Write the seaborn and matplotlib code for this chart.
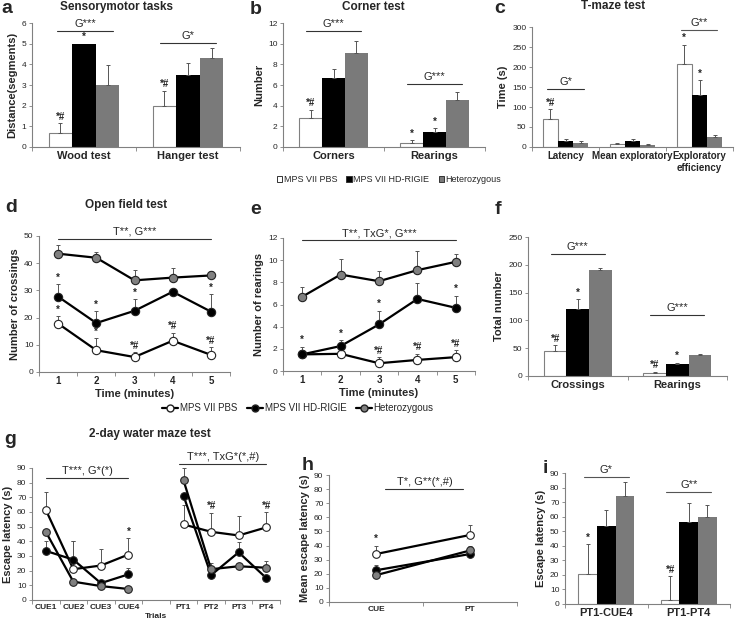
import numpy as np
import pandas as pd
import matplotlib
matplotlib.use('Agg')
import matplotlib.pyplot as plt
import seaborn as sns
from matplotlib.patches import Patch
from matplotlib.lines import Line2D
from matplotlib.container import BarContainer

# --- Données ---
groups = ['MPS VII PBS', 'MPS VII HD-RIGIE', 'Heterozygous']
bar_colors = ['#ffffff', '#000000', '#7a7a7a']
dot_colors = ['#ffffff', '#000000', '#808080']

# a - Sensorymotor tasks
a_cats = ['Wood test', 'Hanger test']
a_vals = [[0.7, 2.0], [5.0, 3.5], [3.0, 4.3]]
a_errs = [[0.45, 0.72], [0.0, 0.57], [0.95, 0.48]]
a_marks = [['*#', '*#'], ['*', ''], ['', '']]

# b - Corner test
b_cats = ['Corners', 'Rearings']
b_vals = [[2.8, 0.4], [6.7, 1.45], [9.1, 4.55]]
b_errs = [[0.8, 0.3], [0.8, 0.4], [1.2, 0.8]]
b_marks = [['*#', '*'], ['', '*'], ['', '']]

# c - T-maze test
c_cats = ['Latency', 'Mean exploratory', 'Exploratory\nefficiency']
c_vals = [[70, 8, 208], [15, 14, 130], [11, 6, 25]]
c_errs = [[25, 3, 48], [5, 5, 38], [4, 2, 5]]
c_marks = [['*#', '', '*'], ['', '', '*'], ['', '', '']]

# d - Open field test (crossings)
time_min = [1, 2, 3, 4, 5]
d_vals = [[17.8, 8.0, 5.5, 11.5, 6.3],
          [27.7, 18.0, 22.5, 29.5, 22.2],
          [43.5, 42.0, 33.7, 34.7, 35.5]]
d_errs = [[2.8, 4.5, 1.8, 3.0, 2.8],
          [4.7, 4.5, 4.3, 0.0, 6.5],
          [3.3, 2.3, 3.8, 3.5, 1.8]]
d_marks = [['*', '*', '*#', '*#', '*#'],
           ['*', '*', '*', '', '*'],
           ['', '', '', '', '']]

# e - Open field test (rearings)
e_vals = [[1.5, 1.55, 0.7, 1.0, 1.25],
          [1.5, 2.25, 4.2, 6.5, 5.7],
          [6.7, 8.7, 8.1, 9.1, 9.85]]
e_errs = [[0.3, 0.0, 0.55, 0.55, 0.6],
          [0.7, 0.55, 1.25, 1.45, 1.1],
          [0.9, 1.4, 0.9, 1.7, 0.75]]
e_marks = [['', '', '*#', '*#', '*#'],
           ['*', '*', '*', '', '*'],
           ['', '', '', '', '']]

# f - Totaux
f_cats = ['Crossings', 'Rearings']
f_vals = [[45, 6], [120, 21], [190, 38]]
f_errs = [[10, 2], [18, 3], [5, 2]]
f_marks = [['*#', '*#'], ['*', '*'], ['', '']]

# g - 2-day water maze
g_trials = ['CUE1', 'CUE2', 'CUE3', 'CUE4', '', 'PT1', 'PT2', 'PT3', 'PT4']
g_vals = [[61.5, 21, 23.5, 31, np.nan, 51.5, 46.5, 44, 49.5],
          [33.5, 27.5, 11.5, 17.5, np.nan, 71, 17, 32.5, 15],
          [46.5, 12.5, 9.5, 7.5, np.nan, 81.5, 21, 23, 22]]
g_errs = [[12, 19, 11, 11, 0, 13, 13, 13, 10.5],
          [6.5, 12.5, 0, 4.5, 0, 0, 0, 7, 0],
          [0, 0, 0, 2, 0, 8.5, 4, 0, 4.5]]
g_marks = ['', '', '', '*', '', '', '*#', '', '*#']

# h - mean escape latency
h_cats = ['CUE', 'PT']
h_vals = [[34, 47.5], [22.5, 34], [19, 36.5]]
h_errs = [[6, 7], [3.5, 0], [0, 3]]

# i - différences
i_cats = ['PT1-CUE4', 'PT1-PT4']
i_vals = [[20.5, 2.5], [53.5, 56.5], [74.5, 60]]
i_errs = [[20.5, 16.5], [11, 13], [9, 8]]
i_marks = [['*', '*#'], ['', ''], ['', '']]


sns.set_theme(style='white')
plt.rcParams['font.family'] = ['Liberation Sans', 'DejaVu Sans']

W, H = 741, 621
fig = plt.figure(figsize=(W / 100, H / 100), dpi=100)


def make_ax(l, t, r, b):
    ax = fig.add_axes([l / W, 1 - b / H, (r - l) / W, (b - t) / H])
    for s in ['top', 'right']:
        ax.spines[s].set_visible(False)
    for s in ['left', 'bottom']:
        ax.spines[s].set_color('#808080')
        ax.spines[s].set_linewidth(0.8)
    ax.tick_params(axis='y', direction='out', length=2, width=0.6, color='#808080',
                   labelsize=6, pad=2, left=True)
    ax.tick_params(axis='x', which='major', length=0, labelsize=8, pad=3)
    ax.tick_params(axis='x', which='minor', direction='out', length=3, width=0.6,
                   color='#808080', bottom=True)
    return ax


def cat_minor(ax, n, start):
    ax.set_xticks(np.arange(n + 1) + start, minor=True)


def sig_line(ax, x0, x1, y, txt, color='#333333', fs=8):
    ax.plot([x0, x1], [y, y], color=color, lw=0.8, clip_on=False)
    ax.annotate(txt, ((x0 + x1) / 2, y), xytext=(0, 1.5), textcoords='offset points',
                ha='center', va='bottom', fontsize=fs, annotation_clip=False)


def mark(ax, x, y, txt):
    ax.annotate(txt, (x, y), xytext=(0, 1), textcoords='offset points', ha='center',
                va='bottom', fontsize=7, fontweight='bold', annotation_clip=False)


def bar_panel(ax, cats, vals, errs, marks, ylim, step, ylabel):
    rows = []
    for g, vs in zip(groups, vals):
        for c, v in zip(cats, vs):
            rows.append({'cat': c, 'val': v, 'group': g})
    df = pd.DataFrame(rows)
    sns.barplot(data=df, x='cat', y='val', hue='group', hue_order=groups, order=cats,
                palette=bar_colors, errorbar=None, width=0.68, gap=0, saturation=1,
                legend=False, ax=ax)
    conts = [c for c in ax.containers if isinstance(c, BarContainer)]
    for gi, cont in enumerate(conts):
        for ci, bar in enumerate(cont):
            if gi == 0:
                bar.set_edgecolor('#808080')
                bar.set_linewidth(0.8)
            else:
                bar.set_edgecolor('none')
            x = bar.get_x() + bar.get_width() / 2
            top = bar.get_height()
            e = errs[gi][ci]
            if e > 0:
                ax.errorbar([x], [top], yerr=[[0], [e]], fmt='none', ecolor='#555555',
                            elinewidth=0.7, capsize=1.5, capthick=0.7, zorder=1)
            if marks[gi][ci]:
                mark(ax, x, top + e, marks[gi][ci])
    ax.set_ylim(*ylim)
    ax.set_yticks(np.arange(ylim[0], ylim[1] + step / 2, step))
    ax.set_xlim(-0.5, len(cats) - 0.5)
    cat_minor(ax, len(cats), -0.5)
    ax.set_xlabel('')
    ax.set_ylabel(ylabel, fontsize=8, fontweight='bold', labelpad=3)
    for lab in ax.get_xticklabels():
        lab.set_fontweight('bold')


def dot_series(ax, x, y, e, gi, ms=6):
    x = np.asarray(x, float)
    y = np.asarray(y, float)
    e = np.asarray(e, float)
    ok = e > 0
    ax.errorbar(x[ok], y[ok], yerr=[np.zeros(ok.sum()), e[ok]], fmt='none',
                ecolor='#555555', elinewidth=0.7, capsize=1.5, capthick=0.7, zorder=1)
    sns.lineplot(x=x, y=y, ax=ax, color='black', lw=1.6, marker='o', markersize=ms,
                 markerfacecolor=dot_colors[gi], markeredgecolor='#222222',
                 markeredgewidth=0.8, zorder=3, estimator=None, sort=False)


def letter(x, y, s):
    # y = haut de la zone de texte
    fig.text(x / W, 1 - y / H, s, fontsize=14, fontweight='bold', va='top', ha='left')


def title(x, y, s):
    fig.text(x / W, 1 - y / H, s, fontsize=8.5, fontweight='bold', va='center', ha='center')


# ---- a ----
ax = make_ax(32, 23, 240, 147)
bar_panel(ax, a_cats, a_vals, a_errs, a_marks, (0, 6), 1, 'Distance(segments)')
sig_line(ax, -0.26, 0.28, 5.6, 'G***')
sig_line(ax, 0.73, 1.27, 5.05, 'G*')
letter(1, 0, 'a')
title(116, 7, 'Sensorymotor tasks')

# ---- b ----
ax = make_ax(283, 23, 485, 147)
bar_panel(ax, b_cats, b_vals, b_errs, b_marks, (0, 12), 2, 'Number')
sig_line(ax, -0.27, 0.27, 11.2, 'G***')
sig_line(ax, 0.73, 1.27, 6.1, 'G***')
letter(250, 1, 'b')
title(373, 7, 'Corner test')

# ---- c ----
ax = make_ax(532, 27, 733, 147)
bar_panel(ax, c_cats, c_vals, c_errs, c_marks, (0, 300), 50, 'Time (s)')
sig_line(ax, -0.27, 0.27, 146, 'G*')
sig_line(ax, 1.72, 2.26, 292, 'G**', color='#555555')
ax.tick_params(axis='x', labelsize=7)
letter(494, 0, 'c')
title(613, 6, 'T-maze test')

# legende 1
h1 = [Patch(facecolor=c, edgecolor='#333333', lw=0.7) for c in bar_colors]
fig.legend(h1, groups, loc='center', bbox_to_anchor=(389 / W, 1 - 180 / H), ncol=3,
           frameon=False, fontsize=6.5, handlelength=0.6, handleheight=0.6,
           handletextpad=0.2, columnspacing=1.0, borderpad=0)

# ---- d ----
ax = make_ax(39, 236, 230, 372)
for gi in range(3):
    dot_series(ax, time_min, d_vals[gi], d_errs[gi], gi)
    for t, v, e, m in zip(time_min, d_vals[gi], d_errs[gi], d_marks[gi]):
        if m:
            mark(ax, t, v + e, m)
ax.set_xlim(0.5, 5.5)
ax.set_ylim(0, 50)
ax.set_xticks(time_min)
cat_minor(ax, 5, 0.5)
ax.set_yticks(range(0, 51, 10))
ax.tick_params(axis='x', labelsize=7)
for lab in ax.get_xticklabels():
    lab.set_fontweight('bold')
ax.set_xlabel('Time (minutes)', fontsize=8, fontweight='bold', labelpad=2)
ax.set_ylabel('Number of crossings', fontsize=8, fontweight='bold', labelpad=3)
sig_line(ax, 1, 5, 49, 'T**, G***')
letter(5, 199, 'd')
title(126, 205, 'Open field test')

# ---- e ----
ax = make_ax(283, 238, 475, 371)
for gi in range(3):
    dot_series(ax, time_min, e_vals[gi], e_errs[gi], gi)
    for t, v, e, m in zip(time_min, e_vals[gi], e_errs[gi], e_marks[gi]):
        if m:
            mark(ax, t, v + e, m)
ax.set_xlim(0.5, 5.5)
ax.set_ylim(0, 12)
ax.set_xticks(time_min)
cat_minor(ax, 5, 0.5)
ax.set_yticks(range(0, 13, 2))
ax.tick_params(axis='x', labelsize=7)
for lab in ax.get_xticklabels():
    lab.set_fontweight('bold')
ax.set_xlabel('Time (minutes)', fontsize=8, fontweight='bold', labelpad=2)
ax.set_ylabel('Number of rearings', fontsize=8, fontweight='bold', labelpad=3)
sig_line(ax, 1, 5, 11.8, 'T**, TxG*, G***')
letter(250, 201, 'e')

# ---- f ----
ax = make_ax(528, 237, 727, 376)
bar_panel(ax, f_cats, f_vals, f_errs, f_marks, (0, 250), 50, 'Total number')
sig_line(ax, -0.27, 0.27, 220, 'G***')
sig_line(ax, 0.73, 1.27, 110, 'G***')
letter(495, 201, 'f')

# legende 2
h2 = [Line2D([], [], color='black', lw=1.6, marker='o', markersize=5,
             markerfacecolor=c, markeredgecolor='#222222') for c in dot_colors]
fig.legend(h2, groups, loc='center', bbox_to_anchor=(298 / W, 1 - 408 / H), ncol=3,
           frameon=False, fontsize=7, handlelength=1.6, handletextpad=0.2,
           columnspacing=1.0, borderpad=0)

# ---- g ----
ax = make_ax(32, 468, 280, 600)
gx = np.arange(len(g_trials))
for gi in range(3):
    for seg in (slice(0, 4), slice(5, 9)):
        dot_series(ax, gx[seg], g_vals[gi][seg], g_errs[gi][seg], gi, ms=5.5)
for xi, m in enumerate(g_marks):
    if m:
        top = max(np.nan_to_num(g_vals[k][xi]) + g_errs[k][xi] for k in range(3))
        mark(ax, xi, top, m)
ax.set_xlim(-0.5, 8.5)
ax.set_ylim(0, 90)
ax.set_xticks(gx)
ax.set_xticklabels(g_trials)
cat_minor(ax, 9, -0.5)
ax.set_yticks(range(0, 91, 10))
ax.tick_params(axis='x', labelsize=6)
for lab in ax.get_xticklabels():
    lab.set_fontweight('bold')
ax.text(4, -11, 'Trials', ha='center', va='center', fontsize=6, fontweight='bold')
ax.set_ylabel('Escape latency (s)', fontsize=8, fontweight='bold', labelpad=3)
sig_line(ax, 0.0, 3.0, 83, 'T***, G*(*)')
sig_line(ax, 4.85, 8.0, 93, 'T***, TxG*(*,#)')
letter(4, 431, 'g')
title(150, 434, '2-day water maze test')

# ---- h ----
ax = make_ax(329, 475, 517, 602)
for gi in range(3):
    dot_series(ax, [0, 1], h_vals[gi], h_errs[gi], gi, ms=5.5)
mark(ax, 0, h_vals[0][0] + h_errs[0][0], '*')
ax.set_xlim(-0.5, 1.5)
ax.set_ylim(0, 90)
ax.set_xticks([0, 1])
ax.set_xticklabels(h_cats)
cat_minor(ax, 2, -0.5)
ax.set_yticks(range(0, 91, 10))
ax.tick_params(axis='x', labelsize=6)
for lab in ax.get_xticklabels():
    lab.set_fontweight('bold')
ax.set_ylabel('Mean escape latency (s)', fontsize=8, fontweight='bold', labelpad=3)
sig_line(ax, 0.1, 0.93, 80, 'T*, G**(*,#)')
letter(302, 457, 'h')

# ---- i ----
ax = make_ax(565, 473, 730, 604)
bar_panel(ax, i_cats, i_vals, i_errs, i_marks, (0, 90), 10, 'Escape latency (s)')
sig_line(ax, -0.27, 0.27, 87, 'G*', color='#555555')
sig_line(ax, 0.73, 1.27, 77, 'G**', color='#555555')
letter(543, 460, 'i')

fig.savefig('out.png', dpi=100)
